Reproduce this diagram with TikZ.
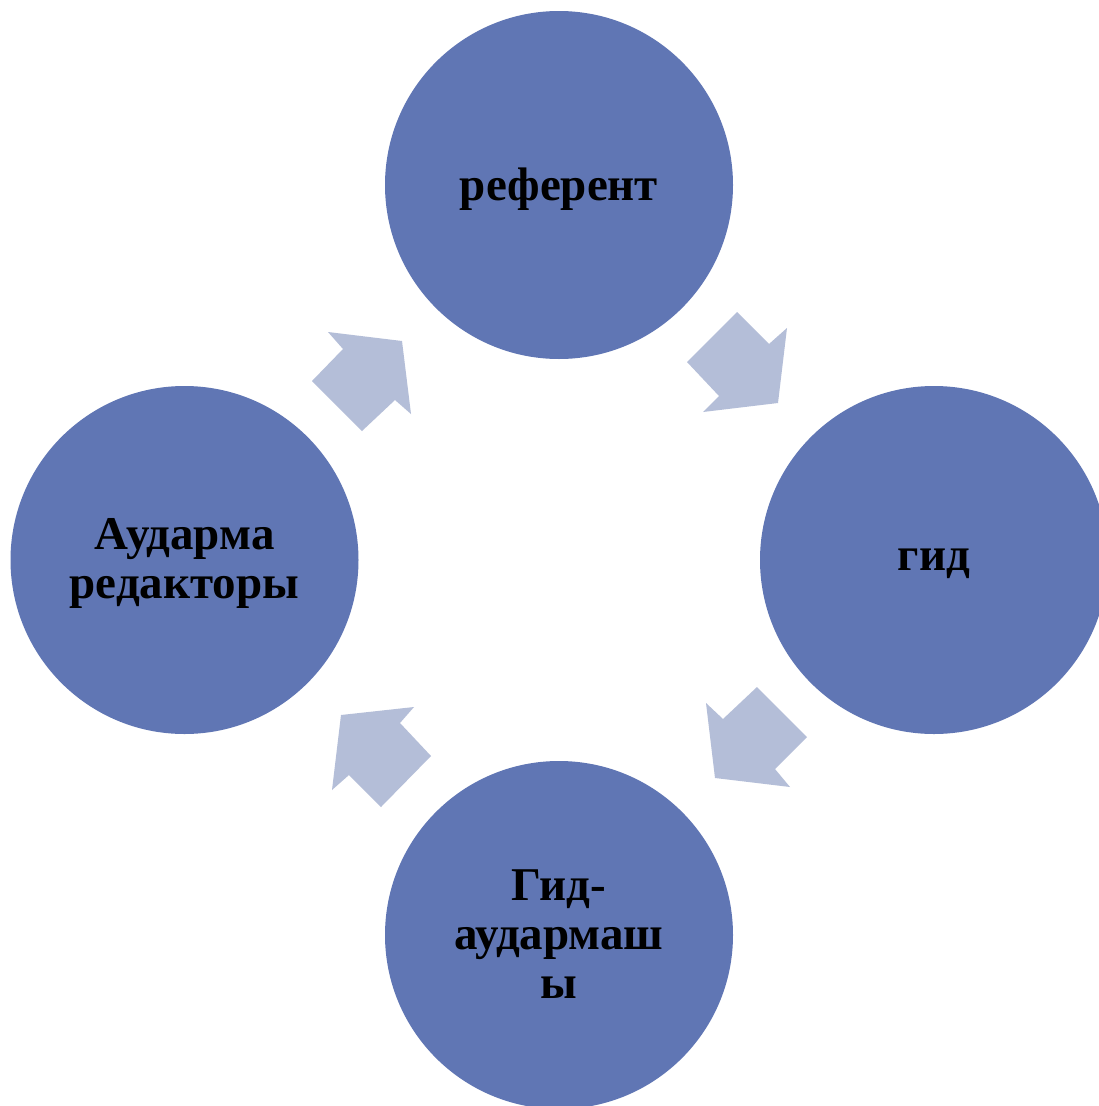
\documentclass[tikz,border=0pt]{standalone}
\usepackage{fontspec}
\setmainfont{Liberation Serif}
\definecolor{circblue}{HTML}{6076B4}
\definecolor{arrowblue}{HTML}{B4BED8}
\pgfdeclareradialshading{vign}{\pgfpoint{0bp}{0bp}}{color(0bp)=(white); color(48bp)=(white); color(71bp)=(black!5)}
\tikzset{
  circ/.style={circle, fill=circblue, draw=none, minimum size=348pt, inner sep=0pt},
  circtext/.style={align=center, font=\bfseries\fontsize{47}{49}\selectfont, text=black, inner sep=0pt},
  blockarrow/.style={fill=arrowblue, draw=none}
}
\begin{document}
\begin{tikzpicture}[x=1pt,y=-1pt]
\useasboundingbox (0,0) rectangle (1099,1106);
\clip (0,0) rectangle (1099,1106);
\shade[shading=vign] (0,0) rectangle (1099,1106);
% circles
\node[circ] (ref) at (559,185) {};
\node[circ] (gid) at (934,560) {};
\node[circ] (gidaud) at (559,935) {};
\node[circ] (red) at (184.5,560) {};
\node[circtext] (reft) at ([yshift=-4pt]ref.center) {референт};
\node[circtext] (gidt) at ([yshift=-4pt]gid.center) {гид};
\node[circtext] (gidaudt) at ([yshift=1pt]gidaud.center) {Гид-\\аудармаш\\ы};
\node[circtext] (redt) at ([yshift=-3pt]red.center) {Аударма\\редакторы};
% block arrows
\fill[blockarrow] (737,312) -- (769,344) -- (787,328) -- (778,403) -- (703,412) -- (719,396) -- (687,362) -- cycle;
\fill[blockarrow] (757,687) -- (807,737) -- (775,769) -- (790,787) -- (715,778) -- (706,703) -- (723,719) -- cycle;
\fill[blockarrow] (431,756) -- (381,807) -- (349,775) -- (332,790) -- (341,715) -- (414,707) -- (400,723) -- cycle;
\fill[blockarrow] (362,431) -- (312,381) -- (343,349) -- (328,332) -- (402,341) -- (411,414) -- (395,400) -- cycle;
\end{tikzpicture}
\end{document}
